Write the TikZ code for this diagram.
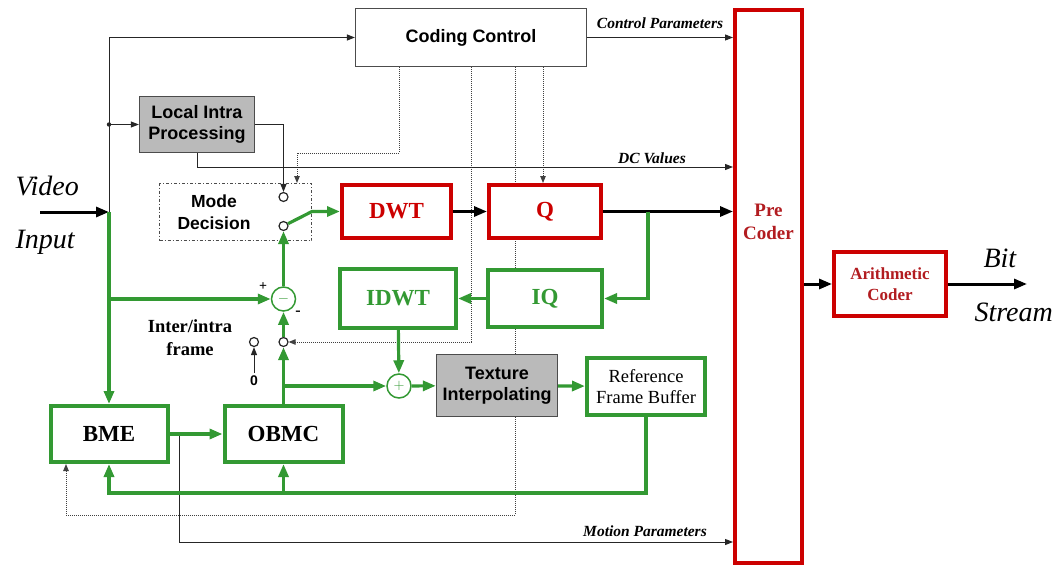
\documentclass[tikz,border=0pt]{standalone}
\usepackage{fontspec}
\setmainfont{Liberation Serif}
\setsansfont{Liberation Sans}
\usetikzlibrary{arrows.meta,backgrounds}
\definecolor{ddred}{RGB}{204,0,0}
\definecolor{ddtxt}{RGB}{178,28,32}
\definecolor{ddgreen}{RGB}{51,153,51}
\newcommand{\fsz}[2]{\fontsize{#1}{#2}\selectfont}

\begin{document}
\begin{tikzpicture}[x=1pt,y=-1pt,
  cbox/.style={draw=black!70,line width=1.2pt,fill=white,font=\sffamily\bfseries\fsz{18}{21}},
  sbox/.style={draw=black!70,line width=1.3pt,fill=black!27,align=center,font=\sffamily\bfseries\fsz{18}{21.5}},
  rbox/.style={draw=ddred,line width=4pt,fill=white,text=ddred,font=\bfseries\fsz{23}{26}},
  gbox/.style={draw=ddgreen,line width=4pt,fill=white,font=\bfseries\fsz{23}{26}},
  sw/.style={circle,draw=black!85,line width=1.2pt,fill=white,inner sep=0pt,minimum size=9pt},
  sumnode/.style={circle,draw=ddgreen,line width=1.5pt,fill=white,minimum size=24pt,inner sep=0pt,text=ddgreen,font=\fsz{14}{14}},
  glink/.style={draw=ddgreen,line width=3.2pt,-{Triangle[length=13pt,width=10pt]}},
  blink/.style={draw=black!85,line width=1pt,-{Triangle[length=8pt,width=6pt]}},
  tlink/.style={draw=black,line width=3pt,-{Triangle[length=13pt,width=10pt]}},
  ctl/.style={draw=black!75,line width=1pt,densely dotted,-{Triangle[length=7pt,width=5.5pt]}},
  lab/.style={font=\bfseries\itshape\fsz{15.5}{15.5}}]
\useasboundingbox (0,0) rectangle (1057,567);

% blocks
\node[cbox,minimum width=231pt,minimum height=58pt] (cc) at (471,37.5) {Coding Control};
\node[draw=ddred,line width=4pt,minimum width=67pt,minimum height=553pt] (pre) at (768.5,286.5) {};
\node[text=ddtxt,align=center,font=\bfseries\fsz{19}{23}] (pretxt) at (768.5,222) {Pre\\Coder};
\node[rbox,align=center,text=ddtxt,font=\bfseries\fsz{17}{21},minimum width=112pt,minimum height=64pt] (ac) at (890,284) {Arithmetic\\Coder};
\node[sbox,minimum width=115pt,minimum height=56pt] (lip) at (197,124.5) {Local Intra\\Processing};
\node[draw=black!70,line width=1pt,dash dot,minimum width=152pt,minimum height=57pt] (md) at (235.5,212) {};
\node[align=center,font=\sffamily\bfseries\fsz{17.5}{22}] (mdtxt) at (214,212) {Mode\\Decision};
\node[sw] (sw1) at (283.5,197) {};
\node[sw] (sw2) at (283.5,226) {};
\node[rbox,minimum width=109pt,minimum height=53pt] (dwt) at (396.5,211.5) {DWT};
\node[rbox,minimum width=112pt,minimum height=53pt] (q) at (545,211.5) {Q};
\node[gbox,text=ddgreen,minimum width=116pt,minimum height=59pt] (idwt) at (398,298.5) {IDWT};
\node[gbox,text=ddgreen,minimum width=114pt,minimum height=57pt] (iq) at (545,298.5) {IQ};
\node[sumnode] (sub) at (283.5,299) {$-$};
\node[sw] (sw3) at (283.5,342) {};
\node[sw] (sw0) at (254,342) {};
\node[font=\sffamily\bfseries\fsz{14}{14}] (zero) at (254,381) {0};
\node[align=center,font=\bfseries\fsz{18.5}{23}] (ii) at (190,338) {Inter/intra\\frame};
\node[sumnode] (add) at (399,386) {$+$};
\node[sbox,minimum width=121pt,minimum height=62pt] (tex) at (497,385.5) {Texture\\Interpolating};
\node[gbox,align=center,font=\fsz{18.5}{21},minimum width=118pt,minimum height=57pt] (rfb) at (646,386.5) {Reference\\Frame Buffer};
\node[gbox,minimum width=117pt,minimum height=56pt] (bme) at (109,434) {BME};
\node[gbox,minimum width=118pt,minimum height=56pt] (obmc) at (283.5,434) {OBMC};

% points
\coordinate (vin) at (40,212);
\coordinate (j1) at (109,212);
\coordinate (j3) at (109,299);
\coordinate (j2) at (648,211.5);
\coordinate (j4) at (283.5,386);
\coordinate (j5) at (179,434);
\coordinate (k2) at (312,211.5);
\coordinate (fb) at (283.5,493);
\coordinate (dcv) at (0,167);
\coordinate (mpy) at (0,542);
\coordinate (bs) at (1027,284);
\coordinate (c1) at (399,67);
\coordinate (k1) at (297,153);
\coordinate (c2) at (471,67);
\coordinate (c3) at (515,67);
\coordinate (k3) at (66,515);
\coordinate (c4) at (543,67);

% control lines
\begin{scope}[on background layer]
\draw[ctl] (c1) |- (k1) -- (k1 |- md.north);
\draw[ctl] (c2) |- (sw3.east);
\draw[ctl] (c3) |- (k3) -- (k3 |- bme.south);
\draw[ctl] (c4) -- (c4 |- q.north);
\end{scope}

% black lines
\draw[tlink] (vin) -- (j1);
\draw[blink] (j1) |- (cc.west);
\fill[black!85] (j1 |- lip.west) circle (2.2pt);
\draw[blink] (j1 |- lip.west) -- (lip.west);
\draw[blink] (lip.east) -| (sw1.north);
\draw[blink] (lip.south) |- (pre.west |- dcv);
\draw[blink] (cc.east) -- (pre.west |- cc.east);
\draw[tlink] (dwt) -- (q);
\draw[tlink] (q.east) -- (pre.west |- q.east);
\draw[tlink] (pre.east |- ac.west) -- (ac.west);
\draw[tlink] (ac.east) -- (bs);
\draw[blink] (j5) |- (pre.west |- mpy);
\draw[blink] (zero) -- (sw0);

% green lines
\draw[glink] (j1) -- (bme.north);
\draw[glink] (j3) -- (sub.west);
\draw[glink] (sub) -- (sw2);
\draw[glink] (sw3) -- (sub);
\draw[glink] (obmc.north) -- (sw3);
\draw[glink] (j4) -- (add);
\draw[glink] (sw2) -- (k2) -- (dwt.west);
\draw[glink] (j2) |- (iq.east);
\draw[glink] (iq) -- (idwt);
\draw[glink] (idwt) -- (add);
\draw[glink] (add) -- (tex);
\draw[glink] (tex) -- (rfb);
\draw[glink] (bme) -- (obmc);
\draw[glink] (rfb.south) |- (fb) -| (bme.south);
\draw[glink] (fb) -- (obmc.south);

% labels
\node[lab] (cplab) at (660,23) {Control Parameters};
\node[lab] (dclab) at (652,158) {DC Values};
\node[lab] (mplab) at (645,531) {Motion Parameters};
\node[font=\bfseries\fsz{14}{14}] (plus) at (263,287) {+};
\node[font=\bfseries\fsz{16}{16}] (minus) at (298,313) {-};
\node[anchor=base west,font=\itshape\fsz{28}{28}] (vid) at (12,195) {Video};
\node[anchor=base west,font=\itshape\fsz{28}{28}] (inp) at (12,248) {Input};
\node[anchor=base west,font=\itshape\fsz{28}{28}] (bit) at (980,267) {Bit};
\node[anchor=base west,font=\itshape\fsz{28}{28}] (strm) at (971,321) {Stream};
\end{tikzpicture}
\end{document}
